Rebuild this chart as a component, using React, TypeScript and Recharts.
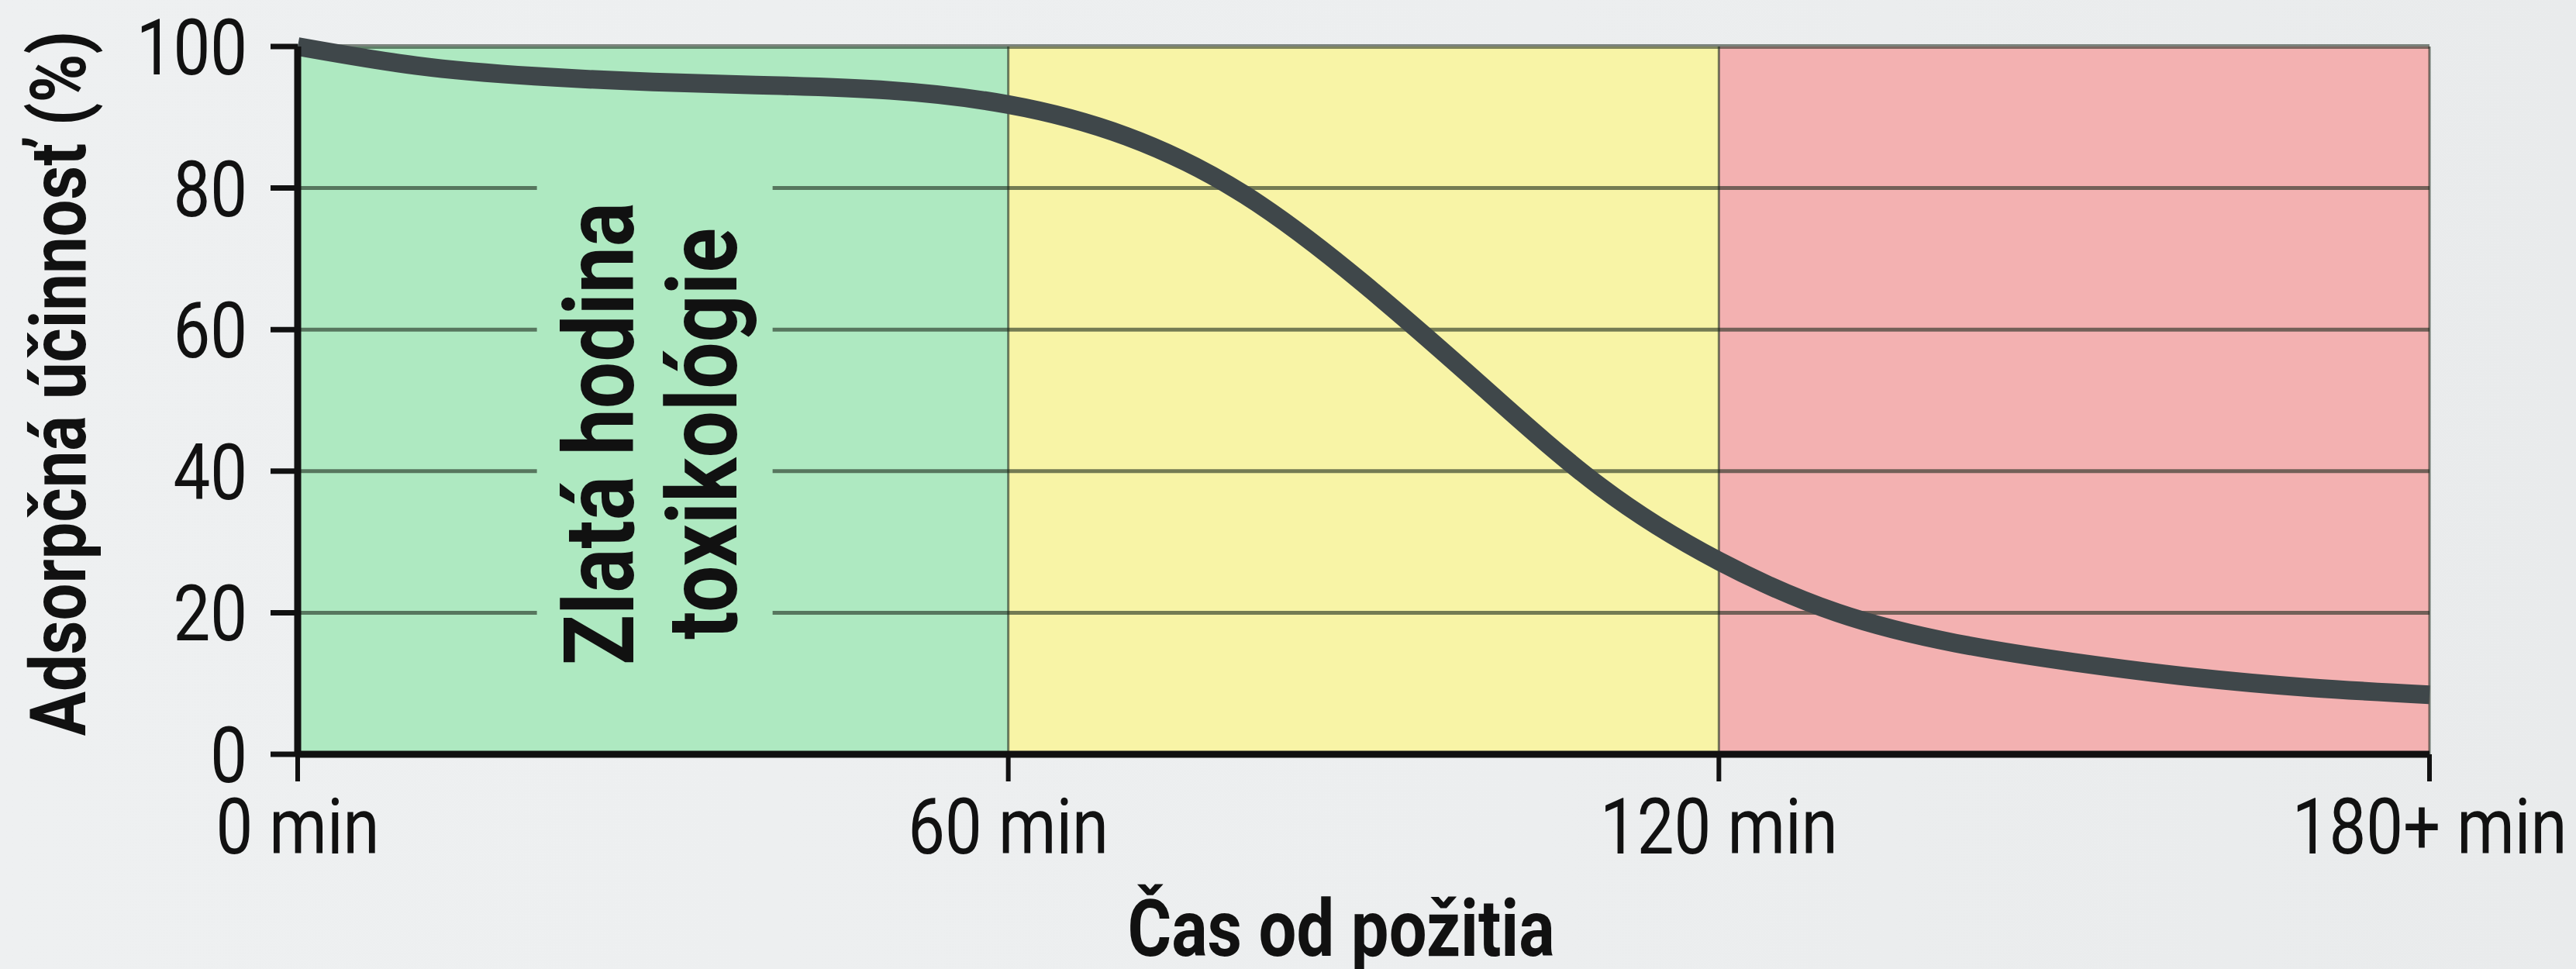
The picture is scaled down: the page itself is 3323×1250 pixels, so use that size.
import {
  ComposedChart,
  Line,
  XAxis,
  YAxis,
  ReferenceArea,
  ReferenceLine,
  Label,
} from 'recharts';

// time since ingestion (min) and adsorption efficiency (%)
const minutes = [0, 10, 20, 30, 40, 50, 60, 70, 80, 90, 100, 110, 120, 130, 140, 150, 160, 170, 180];
const efficiency = [100, 97.3, 95.8, 95.0, 94.5, 93.8, 91.8, 87.3, 79.0, 66.5, 52.0, 37.8, 27.3, 20.0, 15.7, 13.0, 10.9, 9.4, 8.4];

const xTicks = [0, 60, 120, 180];
const xTickLabels = ['0 min', '60 min', '120 min', '180+ min'];
const yTicks = [0, 20, 40, 60, 80, 100];
const gridLevels = [20, 40, 60, 80];

// zones: golden hour, then declining, then late
const zoneBounds = [0, 60, 120, 180];
const zoneColors = ['#aee9c1', '#f8f4a6', '#f3b1b1'];

// gap in the grid behind the annotation (data coords)
const noteBox = { x1: 20.2, x2: 40.1, y1: 8, y2: 81.5 };
const noteLines = ['Zlatá hodina', 'toxikológie'];

const yTitle = 'Adsorpčná účinnosť (%)';
const xTitle = 'Čas od požitia';

const data = minutes.map((t, i) => ({ t, v: efficiency[i] }));

const FONT = 'Roboto, "Noto Sans", sans-serif';
const SQUEEZE = 'scale(0.85,1)';

const YTick = ({ x, y, payload }: any) => (
  <text
    transform={`translate(${x},${y}) ${SQUEEZE}`}
    textAnchor="end"
    dy="0.36em"
    fontSize={100}
    fontFamily={FONT}
    fill="#111"
  >
    {payload.value}
  </text>
);

const XTick = ({ x, y, payload }: any) => {
  const idx = xTicks.indexOf(payload.value);
  return (
    <text
      transform={`translate(${x},${y}) ${SQUEEZE}`}
      textAnchor="middle"
      dy="0.71em"
      fontSize={100}
      fontFamily={FONT}
      fill="#111"
    >
      {xTickLabels[idx]}
    </text>
  );
};

export default function App() {
  const gridStroke = '#1d2a1d';

  return (
    <div
      style={{
        position: 'fixed',
        left: 0,
        top: 0,
        width: 3323,
        height: 1250,
        background: 'linear-gradient(90deg, #eef0f1 0%, #eceeef 60%, #e9ebec 100%)',
      }}
    >
      <ComposedChart
        width={3323}
        height={1250}
        data={data}
        margin={{ top: 60, right: 189, bottom: 0, left: 0 }}
      >
        {zoneColors.map((c, i) => (
          <ReferenceArea
            key={`zone-${i}`}
            x1={zoneBounds[i]}
            x2={zoneBounds[i + 1]}
            y1={0}
            y2={100}
            fill={c}
            fillOpacity={1}
            stroke="none"
            ifOverflow="visible"
          />
        ))}

        {gridLevels.map((lvl) => (
          <ReferenceLine
            key={`gl-a-${lvl}`}
            segment={[
              { x: 0, y: lvl },
              { x: noteBox.x1, y: lvl },
            ]}
            stroke={gridStroke}
            strokeOpacity={0.6}
            strokeWidth={5}
          />
        ))}
        {gridLevels.map((lvl) => (
          <ReferenceLine
            key={`gl-b-${lvl}`}
            segment={[
              { x: noteBox.x2, y: lvl },
              { x: 180, y: lvl },
            ]}
            stroke={gridStroke}
            strokeOpacity={0.6}
            strokeWidth={5}
          />
        ))}
        <ReferenceLine y={100} stroke={gridStroke} strokeOpacity={0.55} strokeWidth={6} />
        {zoneBounds.slice(1).map((b) => (
          <ReferenceLine key={`vl-${b}`} x={b} stroke={gridStroke} strokeOpacity={0.6} strokeWidth={3} />
        ))}

        <ReferenceArea
          x1={noteBox.x1}
          x2={noteBox.x2}
          y1={noteBox.y1}
          y2={noteBox.y2}
          fillOpacity={0}
          stroke="none"
        >
          <Label
            content={({ viewBox }: any) => {
              const cx = viewBox.x + viewBox.width / 2;
              const cy = viewBox.y + viewBox.height / 2 - 5;
              const offsets = [-28, 105];
              return (
                <g>
                  {noteLines.map((ln, i) => (
                    <text
                      key={ln}
                      transform={`translate(${cx + offsets[i]},${cy}) rotate(-90) ${SQUEEZE}`}
                      textAnchor="middle"
                      fontSize={126}
                      fontWeight={700}
                      fontFamily={FONT}
                      fill="#111"
                    >
                      {ln}
                    </text>
                  ))}
                </g>
              );
            }}
          />
        </ReferenceArea>

        <XAxis
          dataKey="t"
          type="number"
          domain={[0, 180]}
          ticks={xTicks}
          height={277}
          axisLine={{ stroke: '#111', strokeWidth: 9 }}
          tickLine={{ stroke: '#111', strokeWidth: 6 }}
          tickSize={35}
          tickMargin={22}
          tick={<XTick />}
          interval={0}
        >
          <Label
            content={({ viewBox }: any) => (
              <text
                transform={`translate(${viewBox.x + viewBox.width / 2 - 29},${viewBox.y + 260}) ${SQUEEZE}`}
                textAnchor="middle"
                fontSize={102}
                fontWeight={700}
                fontFamily={FONT}
                fill="#111"
              >
                {xTitle}
              </text>
            )}
          />
        </XAxis>
        <YAxis
          type="number"
          domain={[0, 100]}
          ticks={yTicks}
          width={384}
          axisLine={{ stroke: '#111', strokeWidth: 9 }}
          tickLine={{ stroke: '#111', strokeWidth: 7 }}
          tickSize={35}
          tickMargin={30}
          tick={<YTick />}
          interval={0}
        >
          <Label
            content={({ viewBox }: any) => (
              <text
                transform={`translate(${viewBox.x + 110},${viewBox.y + viewBox.height / 2 - 22}) rotate(-90) ${SQUEEZE}`}
                textAnchor="middle"
                fontSize={100}
                fontWeight={700}
                fontFamily={FONT}
                fill="#111"
              >
                {yTitle}
              </text>
            )}
          />
        </YAxis>

        <Line
          type="natural"
          dataKey="v"
          stroke="#3f474a"
          strokeWidth={24}
          dot={false}
          activeDot={false}
          isAnimationActive={false}
        />
      </ComposedChart>
    </div>
  );
}
